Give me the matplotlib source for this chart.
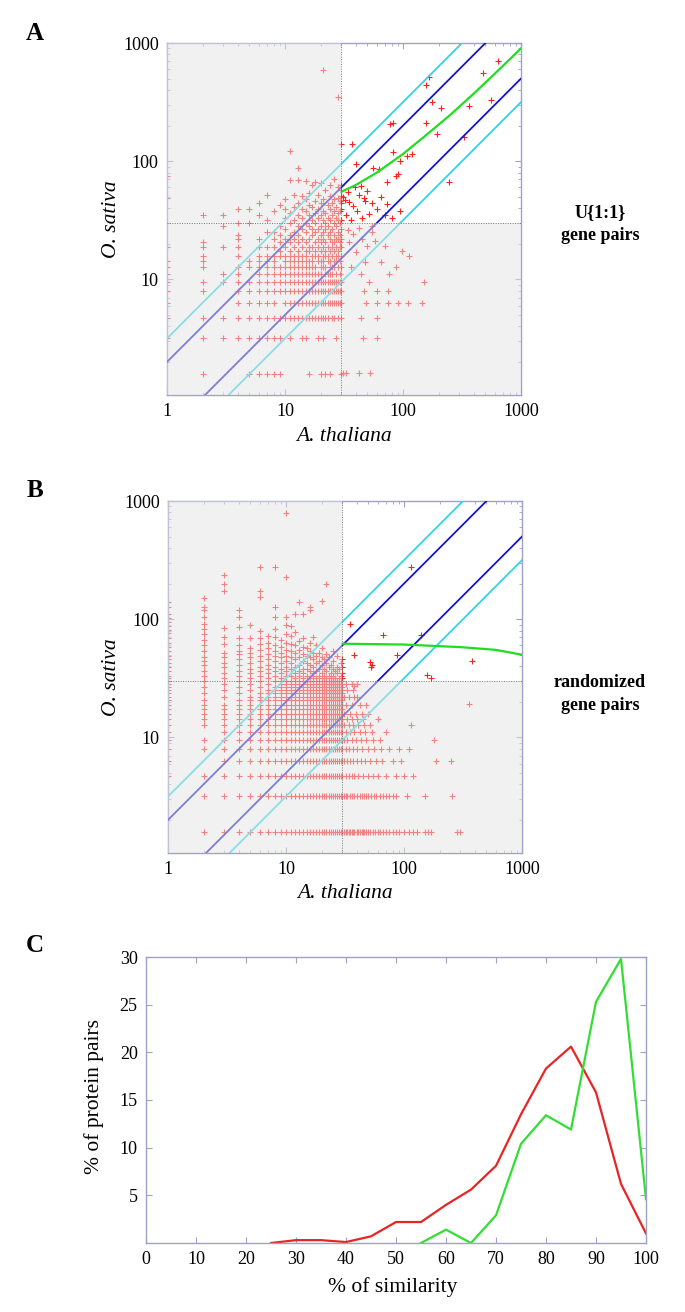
import numpy as np
import matplotlib
matplotlib.use('Agg')
import matplotlib.pyplot as plt
from matplotlib.patches import Rectangle
from matplotlib.ticker import LogLocator, NullFormatter

plt.rcParams['font.family'] = ['Liberation Serif', 'DejaVu Serif']

W, H = 685, 1312

# rice counts are normalised: every row of points sits at k * y_unit
y_unit = 1.58
cut = 30          # expression threshold on both axes
fold_blue = [2.0, 0.5]
fold_cyan = [3.16, 0.316]

# ---------------- panel A : U{1:1} gene pairs ----------------
a_col_x = [1, 2, 3, 4, 5, 6, 7, 8, 9, 10, 11, 12, 13, 14, 15,
           16, 17, 18, 19, 20, 21, 22, 23, 24, 25, 26, 27, 28, 29, 30]
a_col_k = [
    [2, 3, 4, 5, 6, 7, 8, 9, 12, 31, 47],
    [1, 2, 3, 5, 6, 8, 9, 10, 12, 13, 22],
    [2, 3, 6, 7, 12, 18, 22],
    [2, 3, 4, 5, 6, 7, 8, 10, 12, 14, 15, 19, 25],
    [1, 2, 3, 4, 5, 6, 8, 9, 19, 25],
    [1, 2, 3, 4, 5, 6, 7, 8, 9, 10, 12, 14, 22, 28],
    [1, 2, 3, 4, 5, 6, 7, 8, 9, 10, 12, 16, 20, 33],
    [1, 2, 3, 4, 5, 6, 7, 8, 9, 10, 12, 14, 16, 24],
    [1, 2, 3, 5, 6, 7, 8, 10, 11, 13, 15, 18, 27],
    [3, 4, 5, 6, 7, 8, 9, 10, 12, 14, 17, 21, 25, 30],
    [2, 3, 4, 5, 6, 7, 8, 9, 10, 11, 13, 15, 19, 23, 44],
    [3, 4, 5, 6, 7, 8, 9, 10, 12, 14, 16, 20, 26, 33],
    [3, 4, 5, 6, 7, 8, 9, 10, 11, 13, 15, 18, 22, 28, 44],
    [2, 3, 4, 5, 6, 7, 8, 9, 10, 12, 14, 17, 21, 25, 32],
    [2, 3, 4, 5, 6, 7, 8, 9, 10, 11, 13, 16, 19, 24, 30, 43],
    [1, 3, 4, 5, 6, 7, 8, 9, 11, 12, 14, 18, 22, 27, 34],
    [3, 4, 5, 6, 7, 8, 9, 10, 12, 15, 17, 20, 26, 40],
    [3, 4, 5, 6, 7, 8, 10, 11, 13, 16, 19, 23, 29, 42],
    [2, 3, 4, 5, 6, 7, 9, 10, 12, 14, 17, 21, 25, 33],
    [1, 3, 4, 5, 6, 7, 8, 9, 11, 13, 15, 18, 22, 28, 41],
    [2, 3, 4, 5, 6, 8, 9, 10, 12, 14, 16, 20, 24, 30],
    [1, 3, 4, 5, 6, 7, 8, 10, 11, 13, 17, 19, 23, 36],
    [3, 4, 5, 6, 7, 9, 10, 12, 15, 18, 21, 27],
    [1, 4, 5, 6, 7, 8, 9, 11, 14, 16, 20, 25, 32, 40],
    [3, 4, 5, 6, 7, 8, 10, 12, 13, 17, 22, 28],
    [3, 4, 5, 6, 8, 9, 11, 13, 15, 19, 24, 30, 45],
    [2, 4, 5, 6, 7, 9, 10, 12, 14, 18, 21, 26],
    [3, 4, 5, 6, 8, 10, 11, 14, 16, 20, 23, 31, 38],
    [4, 5, 6, 7, 9, 12, 13, 15, 19, 24, 29],
    [1, 3, 4, 5, 6, 8, 10, 12, 14, 17, 20, 25, 28, 32, 36, 40, 89],
]
a_pt_x = [21, 28, 11, 13,
          31, 33, 42, 53, 46, 60, 44, 60, 49, 60, 74, 90, 110, 145, 47, 60, 74,
          150, 76, 87, 112, 99, 35, 38, 42, 45, 50, 55, 58, 40, 48, 36, 44, 52,
          65, 70, 34, 55,
          37, 40, 44, 56, 62, 83, 95, 109, 120, 87, 73, 50, 60, 94, 83, 156, 196,
          244, 327, 156, 166, 177, 208, 363, 78, 47, 73, 90, 33, 35, 38, 41, 45,
          48, 52, 31, 32, 34, 36, 39, 42, 55, 65, 70, 80, 480, 560, 640]
a_pt_y = [590, 350, 123, 88,
          1.6, 1.6, 1.6, 1.6, 3.2, 3.2, 4.7, 4.7, 6.3, 6.3, 6.3, 6.3, 6.3, 6.3,
          7.9, 7.9, 7.9, 9.5, 11, 12.6, 15.8, 17.4, 20.5, 24, 27, 22, 19, 25, 21,
          17, 14, 12.6, 11, 9.5, 14, 19, 26, 28,
          140, 95, 62, 88, 86, 119, 101, 111, 115, 75, 66, 56, 39, 38, 209, 209,
          171, 66, 160, 440, 517, 317, 283, 291, 208, 49, 43, 78, 35, 45, 42, 38,
          33, 46, 36, 50, 47, 55, 32, 60, 52, 44, 50, 35, 33, 560, 330, 700]
a_fit_x = [30, 40, 60, 100, 150, 250, 400, 600, 1000]
a_fit_y = [55, 63, 80, 115, 160, 245, 375, 550, 900]

# ---------------- panel B : randomized gene pairs ----------------
b_col_x = [1, 2, 3, 4, 5, 6, 7, 8]
b_col_k = [
    [3, 4, 5, 6, 7, 8, 9, 10, 11, 12, 13, 14, 15, 16, 17, 18, 19, 20, 21, 23,
     25, 27, 29, 31, 34, 37, 40, 44, 48, 51, 55, 60, 65, 70, 80, 88],
    [1, 2, 3, 5, 6, 8, 9, 10, 11, 12, 13, 15, 17, 19, 21, 23, 26, 28, 30, 34,
     38, 42, 47, 52, 58, 66, 75, 80, 95],
    [1, 2, 3, 4, 5, 6, 7, 8, 9, 10, 11, 12, 14, 16, 18, 20, 22, 25, 27, 30,
     33, 39, 45, 53, 110, 126, 149],
    [1, 2, 3, 4, 5, 6, 7, 8, 9, 10, 11, 12, 13, 15, 17, 19, 21, 23, 26, 29,
     32, 34, 38, 44, 54, 66, 75],
    [1, 2, 3, 4, 5, 6, 7, 8, 9, 10, 11, 12, 13, 14, 16, 18, 20, 22, 24, 27,
     30, 33, 36, 44, 56],
    [1, 2, 3, 4, 5, 6, 7, 8, 9, 10, 11, 12, 13, 14, 15, 17, 19, 21, 23, 25,
     28, 31, 35, 39, 44, 50, 97, 110, 175],
    [1, 2, 3, 4, 5, 6, 7, 8, 9, 10, 11, 12, 13, 14, 15, 16, 18, 20, 22, 24,
     26, 29, 32, 36, 40, 46],
    [1, 2, 3, 4, 5, 6, 7, 8, 9, 10, 11, 12, 13, 14, 15, 16, 17, 19, 21, 23,
     25, 28, 31, 34, 38, 45, 52, 66, 80, 175],
]
# columns 9..30 are a full grid over the lower rows, plus a few rows above
b_block_x = [9, 10, 11, 12, 13, 14, 15, 16, 17, 18, 19, 20, 21, 22, 23, 24,
             25, 26, 27, 28, 29, 30]
b_block_k = [1, 2, 3, 4, 5, 6, 7, 8, 9, 10, 11, 12, 13, 14, 15, 16, 17, 18, 19]
b_block_extra = [
    [20, 22, 24, 27, 30, 33, 37, 42],
    [21, 23, 25, 28, 31, 35, 40, 47, 56, 66, 144, 497],
    [21, 24, 27, 30, 34, 39, 46, 55],
    [20, 22, 25, 29, 33, 38, 49, 70],
    [21, 23, 26, 30, 35, 41, 88],
    [20, 22, 24, 28, 32, 37, 44, 70],
    [21, 24, 27, 31, 36],
    [20, 23, 26, 30, 34, 40, 75, 80],
    [21, 22, 25, 29, 33, 45],
    [20, 23, 27, 31, 38],
    [21, 24, 28, 33],
    [20, 22, 26, 30, 36, 90],
    [21, 24, 29],
    [20, 23, 27, 32, 126],
    [21, 25, 30],
    [20, 22, 26],
    [21, 24, 28, 34],
    [20, 23],
    [22, 25, 31],
    [20, 24],
    [21, 27],
    [20, 22, 25, 29],
]
# rows that run on to the right of the threshold
b_row_k = [1, 2, 3, 4, 5, 6, 7, 8, 9, 10, 12, 14, 16, 18]
b_row_x = [
    [31, 32, 33, 34, 35, 36, 37, 38, 40, 41, 42, 44, 45, 46, 48, 50, 52, 55, 57,
     60, 63, 66, 70, 75, 80, 85, 90, 100, 110, 120, 130, 150, 160, 170, 280, 300],
    [31, 32, 33, 35, 36, 38, 40, 42, 44, 46, 48, 50, 53, 56, 58, 62, 66, 70, 74,
     80, 86, 107, 152, 256],
    [32, 34, 36, 38, 41, 45, 50, 55, 60, 70, 85, 100, 120],
    [31, 33, 35, 37, 40, 43, 47, 52, 58, 65, 80, 95, 186, 250],
    [32, 34, 37, 40, 44, 50, 56, 64, 75, 90, 110],
    [31, 33, 36, 39, 43, 48, 55, 62, 180],
    [32, 35, 38, 42, 47, 54, 70],
    [31, 34, 37, 41, 46, 52, 114],
    [33, 36, 40, 45, 60],
    [31, 35, 39, 44, 50],
    [32, 36, 42, 48],
    [31, 34, 38, 40],
    [33, 37],
    [32, 36, 40],
]
b_pt_x = [35, 37.6, 67, 88, 52, 54, 53, 114, 138, 158, 170, 380, 354, 37.6]
b_pt_y = [91, 50, 74, 50, 43, 41, 39, 276, 74, 34, 32, 44, 19, 27]
b_fit_x = [30, 100, 300, 600, 1000]
b_fit_y = [62, 61, 58, 55, 50]

# ---------------- panel C : similarity of protein pairs ----------------
sim_red_x = [25, 30, 35, 40, 45, 50, 55, 60, 65, 70, 75, 80, 85, 90, 95, 100]
sim_red_y = [0, 0.3, 0.3, 0.1, 0.7, 2.2, 2.2, 4.0, 5.6, 8.1, 13.5, 18.3, 20.6,
             15.8, 6.2, 1.0]
sim_green_x = [55, 60, 65, 70, 75, 80, 85, 90, 95, 100]
sim_green_y = [0, 1.4, 0, 2.9, 10.4, 13.4, 11.9, 25.3, 29.8, 4.6]

spine_col = '#a0a0c8'


def px_box(left, top, right, bottom):
    return [left / W, 1 - bottom / H, (right - left) / W, (bottom - top) / H]


def px_text(x, y, s, **kw):
    fig.text(x / W, 1 - y / H, s, ha='center', va='center', **kw)


def style_axes(ax):
    for s in ax.spines.values():
        s.set_color(spine_col)
        s.set_linewidth(1.0)
    ax.tick_params(which='both', direction='in', top=True, right=True,
                   color=spine_col, labelsize=13, pad=6)
    ax.tick_params(which='major', length=4)
    ax.tick_params(which='minor', length=2.5)


def scatter_panel(ax, xs, ys, fit_x, fit_y):
    ax.set_xscale('log')
    ax.set_yscale('log')
    ax.set_xlim(1, 1000)
    ax.set_ylim(1.05, 1000)
    ax.plot(xs, ys, '+', color='#ff2020', ms=5, mew=0.8, zorder=2)
    lim = np.array(ax.get_xlim())
    for f in fold_blue:
        ax.plot(lim, f * lim, color='#1515c8', lw=1.3, zorder=3)
    for f in fold_cyan:
        ax.plot(lim, f * lim, color='#30d5e5', lw=1.3, zorder=3)
    ax.plot(fit_x, fit_y, color='#20dd20', lw=1.6, zorder=4)
    # grey veil over everything outside the upper right quadrant
    ax.axvspan(1, cut, color='#e5e5e5', alpha=0.5, lw=0, zorder=5)
    ax.add_patch(Rectangle((cut, 1), 1000 - cut, cut - 1, facecolor='#e5e5e5',
                           alpha=0.5, lw=0, zorder=5))
    ax.axvline(cut, color='#777777', ls=(0, (1, 1.5)), lw=0.7, zorder=6)
    ax.axhline(cut, color='#777777', ls=(0, (1, 1.5)), lw=0.7, zorder=6)
    ax.set_xticks([1, 10, 100, 1000])
    ax.set_xticklabels(['1', '10', '100', '1000'])
    ax.set_yticks([10, 100, 1000])
    ax.set_yticklabels(['10', '100', '1000'])
    ax.xaxis.set_minor_locator(LogLocator(base=10, subs=np.arange(2, 10)))
    ax.yaxis.set_minor_locator(LogLocator(base=10, subs=np.arange(2, 10)))
    ax.xaxis.set_minor_formatter(NullFormatter())
    ax.yaxis.set_minor_formatter(NullFormatter())
    style_axes(ax)


fig = plt.figure(figsize=(W / 100, H / 100), dpi=100)

# panel A points
a_x, a_y = [], []
for x, ks in zip(a_col_x, a_col_k):
    for k in ks:
        a_x.append(x)
        a_y.append(k * y_unit)
a_x += a_pt_x
a_y += a_pt_y

# panel B points
b_x, b_y = [], []
for x, ks in zip(b_col_x, b_col_k):
    for k in ks:
        b_x.append(x)
        b_y.append(k * y_unit)
for x, extra in zip(b_block_x, b_block_extra):
    for k in b_block_k + extra:
        b_x.append(x)
        b_y.append(k * y_unit)
for k, xs in zip(b_row_k, b_row_x):
    for x in xs:
        b_x.append(x)
        b_y.append(k * y_unit)
b_x += b_pt_x
b_y += b_pt_y

axA = fig.add_axes(px_box(167, 43, 521, 395))
scatter_panel(axA, a_x, a_y, a_fit_x, a_fit_y)

axB = fig.add_axes(px_box(168, 501, 522, 853))
scatter_panel(axB, b_x, b_y, b_fit_x, b_fit_y)

axC = fig.add_axes(px_box(146, 957, 646, 1243))
axC.plot(sim_red_x, sim_red_y, color='#e82525', lw=1.6)
axC.plot(sim_green_x, sim_green_y, color='#33dd33', lw=1.6)
axC.set_xlim(0, 100)
axC.set_ylim(0, 30)
axC.set_xticks(np.arange(0, 101, 10))
axC.set_yticks([5, 10, 15, 20, 25, 30])
style_axes(axC)

# axis titles
px_text(344, 437, 'A. thaliana', fontsize=15.5, style='italic')
px_text(112, 219, 'O. sativa', fontsize=15.5, style='italic', rotation=90)
px_text(345, 893, 'A. thaliana', fontsize=15.5, style='italic')
px_text(112, 677, 'O. sativa', fontsize=15.5, style='italic', rotation=90)
px_text(393, 1287, '% of similarity', fontsize=15.5)
px_text(94, 1096, '% of protein pairs', fontsize=15.5, rotation=90)

# panel letters and side notes
for letter, y in [('A', 33), ('B', 490), ('C', 946)]:
    px_text(35, y, letter, fontsize=18, fontweight='bold')
px_text(600, 224, 'U{1:1}\ngene pairs', fontsize=13, fontweight='bold',
        linespacing=1.45)
px_text(600, 694, 'randomized\ngene pairs', fontsize=13, fontweight='bold',
        linespacing=1.45)

fig.savefig('out.png', dpi=100)
